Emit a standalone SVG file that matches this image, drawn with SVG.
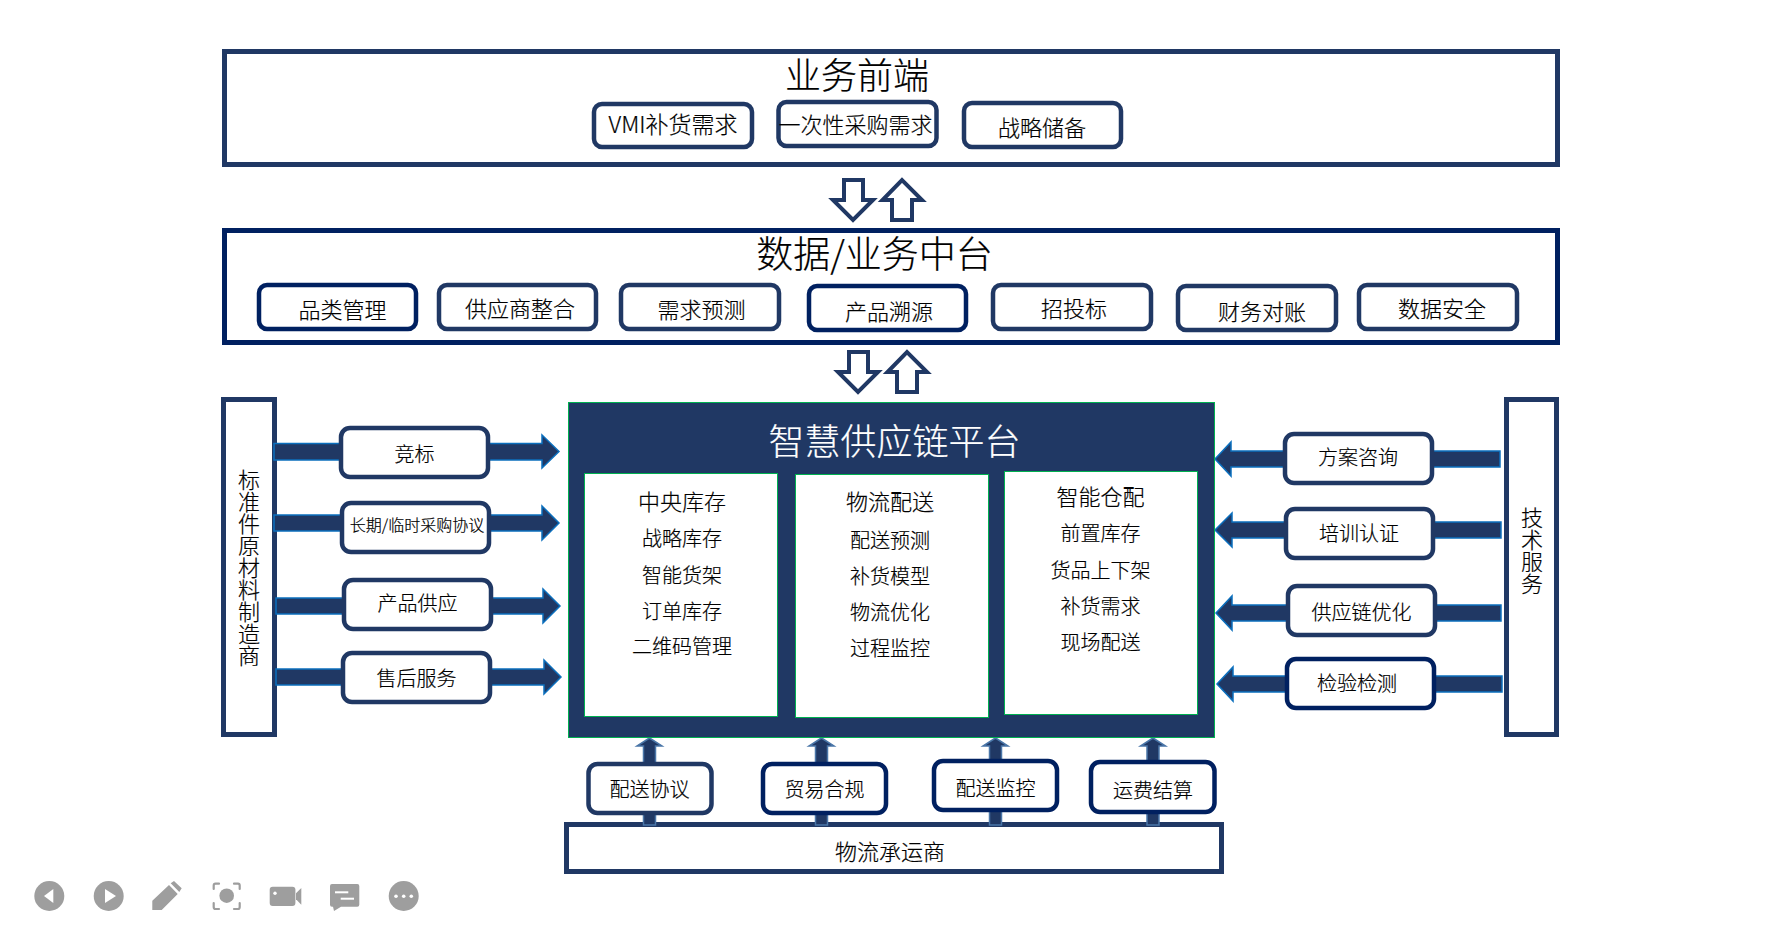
<svg xmlns="http://www.w3.org/2000/svg" width="1779" height="947" viewBox="0 0 1779 947">
<defs><style>
text{font-family:"Noto Sans CJK SC","Noto Sans",sans-serif;font-weight:300;fill:#000;stroke:#000;stroke-width:.2;text-anchor:middle;dominant-baseline:central}
.box{fill:#fff;stroke:#203864;stroke-width:5}
.boxd{fill:#fff;stroke:#002060;stroke-width:5}
.p{fill:#fff;stroke:#203864;stroke-width:4.500}
.pd{fill:#fff;stroke:#002060;stroke-width:4.500}
.panel{fill:#fff;stroke:#00b050;stroke-width:1}
.t37{font-size:37px}.t36{font-size:36px}.t23{font-size:23px}.t22{font-size:22px}.t20{font-size:20px}.t16{font-size:16px}
.v{font-size:22px;writing-mode:vertical-rl;text-orientation:upright;text-anchor:start}
.hollow{fill:#fff;stroke:#203864;stroke-width:4}
.flow{fill:#203864;stroke:#0b6fbd;stroke-width:1.5}
.up{fill:#203864;stroke:#4a76a8;stroke-width:1.5}
.ic{fill:#9e9e9e}.icw{fill:#fff}
</style></defs>
<rect width="1779" height="947" fill="#fff"/>
<g id="front"><rect class="box" x="224.500" y="51.500" width="1333" height="113"/><text class="t36" x="857" y="73">业务前端</text></g>
<g id="middle"><rect class="boxd" x="224.500" y="230.500" width="1333" height="112"/><text class="t37" x="874.500" y="252">数据/业务中台</text></g>
<g id="supplier"><rect class="box" x="223.500" y="399.500" width="51" height="335"/><text class="v" x="249" y="469">标准件原材料制造商</text></g>
<g id="tech"><rect class="box" x="1506.500" y="399.500" width="50" height="335"/><text class="v" x="1532" y="507">技术服务</text></g>
<g id="carrier"><rect class="box" x="566.500" y="824.500" width="655" height="47"/><text class="t22" x="890" y="850">物流承运商</text></g>
<g id="connectors">
<path class="hollow" d="M844 180H863V200H873L853 220L833 200H844Z"/>
<path class="hollow" d="M892 220H912V200H922L902 180L882.500 200H892Z"/>
<path class="hollow" d="M849 352H868V372H878L858 392L838 372H849Z"/>
<path class="hollow" d="M897 392H917V372H927L907 352L887.500 372H897Z"/>
<path class="flow" d="M274 443.500H542V435L559 451.500L542 468V460H274Z"/>
<path class="flow" d="M274 515H542V506L559 523L542 540V531H274Z"/>
<path class="flow" d="M276 598H543V589L560 606L543 623V614H276Z"/>
<path class="flow" d="M276 669H544V660L561 677L544 694V685H276Z"/>
<path class="flow" d="M1500 451H1231V442L1215 459L1231 476V467H1500Z"/>
<path class="flow" d="M1501 522H1232V513L1215 530L1232 547V538H1501Z"/>
<path class="flow" d="M1501 605H1232V596L1216 613L1232 630V621H1501Z"/>
<path class="flow" d="M1502 676H1233V667L1217 684L1233 701V692H1502Z"/>
<path class="up" d="M643.500 825V746H637L649.500 738L662 746H655.500V825Z"/>
<path class="up" d="M815.500 825V746H809L821.500 738L834 746H827.500V825Z"/>
<path class="up" d="M989.500 825V746H983L995.500 738L1008 746H1001.500V825Z"/>
<path class="up" d="M1147 825V746H1140.500L1153 738L1165.500 746H1159V825Z"/>
</g>
<g id="platform"><rect x="568.500" y="402.500" width="646" height="335" fill="#203864" stroke="#00b050" stroke-width="1"/><text class="t36" x="894.500" y="439" style="fill:#fff;stroke:#fff">智慧供应链平台</text></g>
<g id="panel-inventory"><rect class="panel" x="584.500" y="473.500" width="193" height="243"/><text class="t22" x="682" y="500">中央库存</text><text class="t20" x="682" y="537.500">战略库存</text><text class="t20" x="682" y="574">智能货架</text><text class="t20" x="682" y="610">订单库存</text><text class="t20" x="682" y="645">二维码管理</text></g>
<g id="panel-logistics"><rect class="panel" x="795.500" y="474.500" width="193" height="243"/><text class="t22" x="890" y="500">物流配送</text><text class="t20" x="890" y="539">配送预测</text><text class="t20" x="890" y="575">补货模型</text><text class="t20" x="890" y="611">物流优化</text><text class="t20" x="890" y="647">过程监控</text></g>
<g id="panel-warehouse"><rect class="panel" x="1004.500" y="471.500" width="193" height="243"/><text class="t22" x="1100.500" y="495">智能仓配</text><text class="t20" x="1100.500" y="532.500">前置库存</text><text class="t20" x="1100.500" y="569">货品上下架</text><text class="t20" x="1100.500" y="605">补货需求</text><text class="t20" x="1100.500" y="641.500">现场配送</text></g>
<g id="n-vmi"><rect class="p" x="594" y="104" width="158" height="43" rx="8"/><text class="t23" x="673" y="123">VMI补货需求</text></g>
<g id="n-once"><rect class="p" x="778.500" y="102" width="158" height="44" rx="8"/><text class="t22" x="855.500" y="123">一次性采购需求</text></g>
<g id="n-reserve"><rect class="p" x="964" y="103" width="157" height="44" rx="8"/><text class="t22" x="1042" y="126">战略储备</text></g>
<g id="n-cat"><rect class="pd" x="259" y="285" width="157" height="44" rx="8"/><text class="t22" x="342.500" y="308">品类管理</text></g>
<g id="n-sup"><rect class="p" x="439" y="285" width="157" height="44" rx="8"/><text class="t22" x="520" y="307">供应商整合</text></g>
<g id="n-dem"><rect class="p" x="621" y="285" width="158" height="44" rx="8"/><text class="t22" x="701.500" y="308">需求预测</text></g>
<g id="n-trace"><rect class="pd" x="809" y="286" width="157" height="44" rx="8"/><text class="t22" x="889" y="310">产品溯源</text></g>
<g id="n-bid"><rect class="p" x="993" y="285" width="158" height="44" rx="8"/><text class="t22" x="1074" y="307">招投标</text></g>
<g id="n-fin"><rect class="p" x="1178" y="286" width="158" height="44" rx="8"/><text class="t22" x="1262" y="310">财务对账</text></g>
<g id="n-sec"><rect class="p" x="1359" y="285" width="158" height="44" rx="8"/><text class="t22" x="1442" y="307">数据安全</text></g>
<g id="n-l1"><rect class="p" x="341" y="428" width="147" height="49" rx="9"/><text class="t20" x="414.500" y="453">竞标</text></g>
<g id="n-l2"><rect class="p" x="342" y="503" width="147" height="49" rx="9"/><text class="t16" x="417" y="524">长期/临时采购协议</text></g>
<g id="n-l3"><rect class="p" x="344" y="580" width="147" height="49" rx="9"/><text class="t20" x="417.500" y="602">产品供应</text></g>
<g id="n-l4"><rect class="p" x="343" y="653" width="147" height="49" rx="9"/><text class="t20" x="416.500" y="677">售后服务</text></g>
<g id="n-r1"><rect class="p" x="1285" y="434" width="147" height="49" rx="9"/><text class="t20" x="1358" y="456">方案咨询</text></g>
<g id="n-r2"><rect class="p" x="1286" y="509" width="147" height="49" rx="9"/><text class="t20" x="1359" y="532">培训认证</text></g>
<g id="n-r3"><rect class="p" x="1288" y="586" width="147" height="49" rx="9"/><text class="t20" x="1361.500" y="611">供应链优化</text></g>
<g id="n-r4"><rect class="pd" x="1287" y="659" width="147" height="49" rx="9"/><text class="t20" x="1357" y="682">检验检测</text></g>
<g id="n-b1"><rect class="p" x="588.500" y="764" width="123" height="49" rx="9"/><text class="t20" x="649.500" y="788">配送协议</text></g>
<g id="n-b2"><rect class="pd" x="763" y="764" width="123" height="49" rx="9"/><text class="t20" x="824.500" y="788">贸易合规</text></g>
<g id="n-b3"><rect class="pd" x="934" y="761" width="123" height="49" rx="9"/><text class="t20" x="995.500" y="787">配送监控</text></g>
<g id="n-b4"><rect class="pd" x="1091" y="762" width="123.500" height="50" rx="9"/><text class="t20" x="1153" y="789">运费结算</text></g>
<g id="toolbar">
<circle class="ic" cx="49.300" cy="896" r="15"/><path class="icw" d="M44 896L53.300 889V903Z"/>
<circle class="ic" cx="108.700" cy="896" r="15"/><path class="icw" d="M105 889L116 896L105 903Z"/>
<path class="ic" d="M152.300 910V900.700L169 885L177.700 894L161.700 910ZM170.700 883.300L174 881L181.700 888.300L179.300 892Z"/>
<circle class="ic" cx="226.700" cy="895.700" r="7.300"/>
<path d="M213.700 889V885.500Q213.700 883.700 215.500 883.700H219M234 883.700H238Q239.700 883.700 239.700 885.500V889M239.700 903V907Q239.700 909 238 909H234M219 909H215.500Q213.700 909 213.700 907V903" fill="none" stroke="#9e9e9e" stroke-width="2.200" stroke-linecap="round"/>
<rect class="ic" x="269.700" y="886.700" width="25.700" height="19.300" rx="3"/><path class="ic" d="M296 893.300L301.300 888V904.700L296 899.300Z"/><circle class="icw" cx="275" cy="893.300" r="1.700"/>
<path class="ic" d="M332 884H357.300Q359.300 884 359.300 886V904.700Q359.300 906.700 357.300 906.700H341L334 911L333 906.700H332Q330 906.700 330 904.700V886Q330 884 332 884Z"/><rect class="icw" x="335" y="891.300" width="13.300" height="2"/><rect class="icw" x="340.700" y="897.700" width="13.300" height="2"/>
<circle class="ic" cx="403.700" cy="896" r="15"/><circle class="icw" cx="396" cy="896.300" r="1.800"/><circle class="icw" cx="403.700" cy="896.300" r="1.800"/><circle class="icw" cx="411.300" cy="896.300" r="1.800"/>
</g>
</svg>
